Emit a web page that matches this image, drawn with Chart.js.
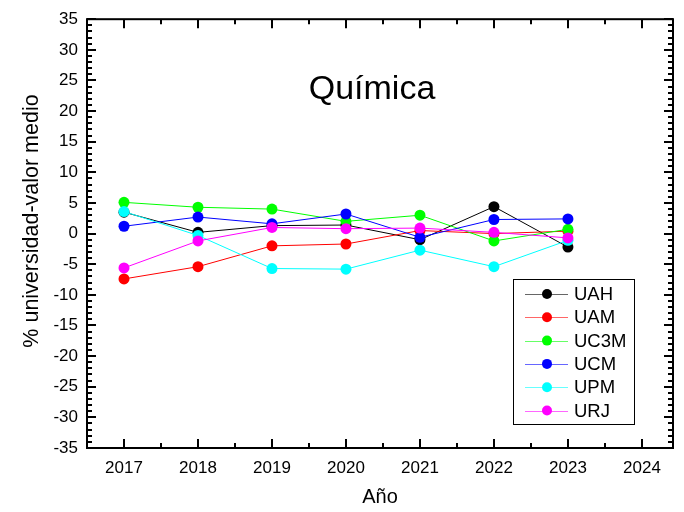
<!DOCTYPE html>
<html>
<head>
<meta charset="utf-8">
<script src="https://cdn.jsdelivr.net/npm/chart.js@4/dist/chart.umd.min.js"></script>
<style>
  html, body { margin: 0; padding: 0; background: #fff; }
  canvas { display: block; }
</style>
</head>
<body>
<canvas id="c" width="684" height="512"></canvas>
<script>
// Years on the horizontal axis (tick labels) and years with data
const tickYears = [2017, 2018, 2019, 2020, 2021, 2022, 2023, 2024];
const years = [2017, 2018, 2019, 2020, 2021, 2022, 2023];

// % universidad - valor medio, per university
const UAH  = [3.5, 0.2, 1.3, 1.4, -1.0, 4.4, -2.2];
const UAM  = [-7.4, -5.4, -2.0, -1.7, 0.5, 0.0, 0.4];
const UC3M = [5.1, 4.3, 4.0, 2.0, 3.0, -1.2, 0.7];
const UCM  = [1.2, 2.7, 1.6, 3.2, -0.6, 2.3, 2.4];
const UPM  = [3.6, -0.3, -5.7, -5.8, -2.7, -5.4, -1.1];
const URJ  = [-5.6, -1.2, 1.0, 0.8, 0.9, 0.2, -0.7];

const seriesNames = ['UAH', 'UAM', 'UC3M', 'UCM', 'UPM', 'URJ'];
const seriesValues = [UAH, UAM, UC3M, UCM, UPM, URJ];
const seriesColors = ['#000000', '#ff0000', '#00ff00', '#0000ff', '#00ffff', '#ff00ff'];

const FONT = "'Liberation Sans', Arial, sans-serif";

const datasets = seriesNames.map((name, i) => ({
  label: name,
  data: years.map((x, j) => ({ x: x, y: seriesValues[i][j] })),
  borderColor: seriesColors[i],
  backgroundColor: seriesColors[i],
  pointBackgroundColor: seriesColors[i],
  pointBorderColor: seriesColors[i],
  borderWidth: 1,
  pointRadius: 5.5,
  pointBorderWidth: 0,
  tension: 0,
  order: seriesNames.length - i
}));

// Frame, inward major/minor ticks, titles and the boxed legend
const decor = {
  id: 'decor',
  afterDraw(chart) {
    const ctx = chart.ctx;
    const a = chart.chartArea;
    const xs = chart.scales.x, ys = chart.scales.y;
    ctx.save();
    ctx.strokeStyle = '#000';
    ctx.lineWidth = 2;
    ctx.lineCap = 'butt';
    ctx.beginPath();
    // vertical axis ticks, every 1 (minor) and 5 (major)
    for (let v = ys.min; v <= ys.max + 1e-9; v += 1) {
      const y = Math.round(ys.getPixelForValue(v));
      const len = (Math.round(v) % 5 === 0) ? 9 : 5;
      ctx.moveTo(a.left, y); ctx.lineTo(a.left + len, y);
      ctx.moveTo(a.right, y); ctx.lineTo(a.right - len, y);
    }
    // horizontal axis ticks, every year (major) and half year (minor)
    for (let v = 2016.5; v <= xs.max + 1e-9; v += 0.5) {
      if (v < xs.min - 1e-9) continue;
      const x = Math.round(xs.getPixelForValue(v));
      const len = (Math.abs(v - Math.round(v)) < 1e-9) ? 9 : 5;
      ctx.moveTo(x, a.bottom); ctx.lineTo(x, a.bottom - len);
      ctx.moveTo(x, a.top); ctx.lineTo(x, a.top + len);
    }
    ctx.stroke();
    ctx.strokeRect(a.left, a.top, a.right - a.left, a.bottom - a.top);

    // chart title inside the plot
    ctx.fillStyle = '#000';
    ctx.font = '34px ' + FONT;
    ctx.textAlign = 'center';
    ctx.textBaseline = 'middle';
    ctx.fillText('Química', 372, 90);

    // vertical axis title
    ctx.save();
    ctx.translate(32, 221);
    ctx.rotate(-Math.PI / 2);
    ctx.font = '21.5px ' + FONT;
    ctx.fillText('% universidad-valor medio', 0, 0);
    ctx.restore();

    // legend box
    const bx = 513, by = 279, bw = 121, bh = 145;
    ctx.lineWidth = 1;
    ctx.strokeStyle = '#000';
    ctx.strokeRect(bx + 0.5, by + 0.5, bw, bh);
    ctx.font = '18.5px ' + FONT;
    ctx.textAlign = 'left';
    seriesNames.forEach((name, i) => {
      const y = 294 + i * 23.3;
      ctx.strokeStyle = seriesColors[i];
      ctx.globalAlpha = 0.6;
      ctx.beginPath();
      ctx.moveTo(525, Math.round(y) + 0.5);
      ctx.lineTo(568, Math.round(y) + 0.5);
      ctx.stroke();
      ctx.globalAlpha = 1;
      ctx.fillStyle = seriesColors[i];
      ctx.beginPath();
      ctx.arc(547, y, 5, 0, Math.PI * 2);
      ctx.fill();
      ctx.fillStyle = '#000';
      ctx.fillText(name, 574, y + 1);
    });
    ctx.restore();
  }
};

new Chart(document.getElementById('c'), {
  type: 'line',
  data: { datasets: datasets },
  plugins: [decor],
  options: {
    responsive: false,
    animation: false,
    events: [],
    layout: { padding: { left: 0, top: 15, right: 11, bottom: 0 } },
    plugins: { legend: { display: false }, tooltip: { enabled: false }, title: { display: false } },
    scales: {
      x: {
        type: 'linear',
        min: 2016.5,
        max: 2024.42,
        grid: { display: false, drawTicks: false },
        border: { display: false },
        afterBuildTicks: (scale) => { scale.ticks = tickYears.map(v => ({ value: v })); },
        afterFit: (scale) => { scale.height = 64; },
        ticks: {
          autoSkip: false,
          maxRotation: 0,
          padding: 10,
          color: '#000',
          font: { family: FONT, size: 17 },
          callback: (v) => String(v)
        },
        title: {
          display: true,
          text: 'Año',
          color: '#000',
          font: { family: FONT, size: 20 },
          padding: { top: 0, bottom: 3 }
        }
      },
      y: {
        type: 'linear',
        min: -35,
        max: 35,
        grid: { display: false, drawTicks: false },
        border: { display: false },
        afterFit: (scale) => { scale.width = 87; },
        ticks: {
          stepSize: 5,
          padding: 9,
          color: '#000',
          font: { family: FONT, size: 17 },
          callback: (v) => String(v)
        }
      }
    }
  }
});
</script>
</body>
</html>
